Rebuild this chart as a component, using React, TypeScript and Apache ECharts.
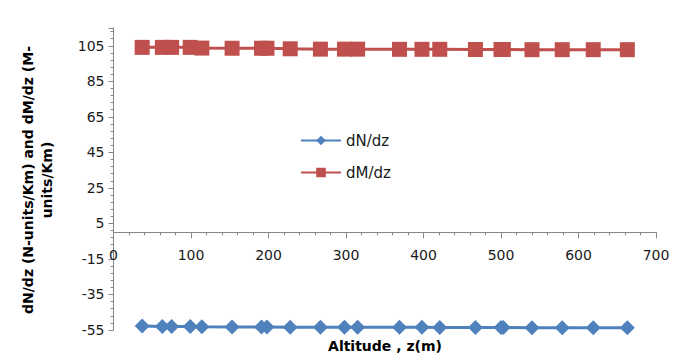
import React, { useEffect, useRef } from "react";
import * as echarts from "echarts";

const altitude = [37, 63, 75, 99, 114, 153, 191, 198, 228, 267, 298, 315, 369, 398, 421, 467, 500, 503, 540, 579, 619, 663];
const dNdz = [-52.8, -53.0, -53.0, -53.1, -53.2, -53.3, -53.3, -53.3, -53.4, -53.4, -53.5, -53.5, -53.5, -53.5, -53.6, -53.6, -53.6, -53.6, -53.7, -53.7, -53.7, -53.7];
const dMdz = [104.1, 104.1, 104.1, 104.1, 103.7, 103.6, 103.6, 103.6, 103.3, 103.1, 103.1, 103.1, 103.0, 103.0, 103.0, 102.9, 102.9, 102.9, 102.8, 102.8, 102.8, 102.8];
const seriesNames = ["dN/dz", "dM/dz"];
const xTitle = "Altitude , z(m)";
const yTitle = "dN/dz (N-units/Km) and dM/dz (M-\nunits/Km)";

const Y_MIN = -55;
const Y_MAX = 115;
const GRID_TOP = 28;
const GRID_BOTTOM = 31;
const CHART_H = 361;

export default function App() {
  const ref = useRef<HTMLDivElement>(null);
  useEffect(() => {
    if (!ref.current) return;
    const chart = echarts.init(ref.current, undefined, { renderer: "svg" });
    const axisColor = "#868686";
    const labelFont = { fontFamily: "DejaVu Sans", fontSize: 14, color: "#1a1a1a" };
    const plotH = CHART_H - GRID_TOP - GRID_BOTTOM;
    // distance from the bottom of the grid up to the y = 0 line
    const zeroOffset = (0 - Y_MIN) / (Y_MAX - Y_MIN) * plotH;
    chart.setOption({
      animation: false,
      backgroundColor: "#ffffff",
      grid: { left: 113.5, right: 21, top: GRID_TOP, bottom: GRID_BOTTOM, containLabel: false },
      legend: {
        orient: "vertical",
        left: 295,
        top: 128,
        itemWidth: 40,
        itemHeight: 12,
        itemGap: 17,
        textStyle: { fontFamily: "DejaVu Sans", fontSize: 15, color: "#1a1a1a" },
        data: seriesNames,
      },
      xAxis: {
        type: "value",
        min: 0,
        max: 700,
        interval: 100,
        position: "bottom",
        offset: -zeroOffset,
        axisLine: { onZero: false, lineStyle: { color: axisColor, width: 1 } },
        axisTick: { show: true, length: 6, lineStyle: { color: axisColor } },
        minorTick: { show: true, splitNumber: 5, length: 3, lineStyle: { color: axisColor } },
        splitLine: { show: false },
        axisLabel: { ...labelFont, margin: 16 },
      },
      yAxis: {
        type: "value",
        min: Y_MIN,
        max: Y_MAX,
        interval: 20,
        axisLine: { show: true, onZero: false, lineStyle: { color: axisColor, width: 1 } },
        axisTick: { show: true, length: 5, lineStyle: { color: axisColor } },
        minorTick: { show: true, splitNumber: 5, length: 3, lineStyle: { color: axisColor } },
        splitLine: { show: false },
        axisLabel: {
          ...labelFont,
          margin: 9,
          formatter: (v: number) => (v === Y_MAX ? "" : String(v)),
        },
      },
      series: [
        {
          name: seriesNames[0],
          type: "line",
          data: altitude.map((x, i) => [x, dNdz[i]]),
          symbol: "diamond",
          symbolSize: [15, 15],
          lineStyle: { color: "#4F81BD", width: 3 },
          itemStyle: { color: "#4F81BD" },
        },
        {
          name: seriesNames[1],
          type: "line",
          data: altitude.map((x, i) => [x, dMdz[i]]),
          symbol: "rect",
          symbolSize: 15,
          lineStyle: { color: "#C0504D", width: 3 },
          itemStyle: { color: "#C0504D" },
        },
      ],
      graphic: [
        {
          type: "text",
          x: 385,
          y: 346,
          style: {
            text: xTitle,
            fontFamily: "DejaVu Sans",
            fontWeight: "bold",
            fontSize: 14,
            fill: "#000",
            textAlign: "center",
            textVerticalAlign: "middle",
          },
        },
        {
          type: "text",
          x: 37,
          y: 180,
          rotation: Math.PI / 2,
          style: {
            text: yTitle,
            fontFamily: "DejaVu Sans",
            fontWeight: "bold",
            fontSize: 14,
            lineHeight: 19,
            fill: "#000",
            textAlign: "center",
            textVerticalAlign: "middle",
          },
        },
      ],
    });
    return () => chart.dispose();
  }, []);
  return <div ref={ref} style={{ width: 677, height: 361, position: "absolute", left: 0, top: 0 }} />;
}
